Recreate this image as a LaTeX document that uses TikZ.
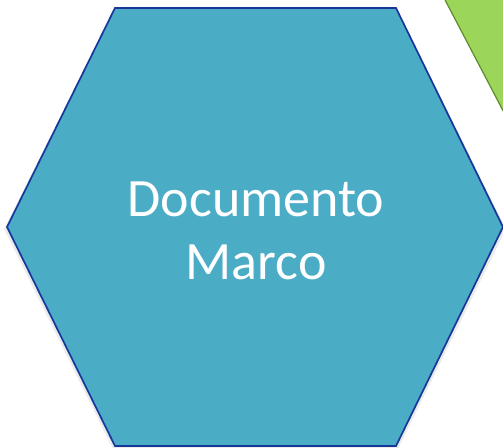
\documentclass[tikz,border=0pt]{standalone}
\usepackage{fontspec}
\setmainfont{Carlito}
\definecolor{hexfill}{HTML}{4BACC6}
\definecolor{hexline}{HTML}{17379B}
\definecolor{greenfill}{HTML}{9BD55A}
\definecolor{greenline}{HTML}{5F8B2F}
\begin{document}
\begin{tikzpicture}[x=1pt,y=-1pt,
  hexshape/.style={fill=hexfill,draw=hexline,line width=1.7pt,line join=miter},
  greenshape/.style={fill=greenfill,draw=greenline,line width=1.2pt},
  hextext/.style={text=white,font=\fontsize{54}{63}\selectfont,align=center}]
\useasboundingbox (0,0) rectangle (503,447);
\begin{scope}
\clip (0,0) rectangle (503,447);
\fill[black!10] (446,0) -- (506,0) -- (506,116) -- cycle;
\draw[greenshape] (444,-2) -- (510,-2) -- (510,124) -- cycle;
\fill[black!8] (113,11) -- (398,11) -- (506,229) -- (398,449) -- (113,449) -- (4,229) -- cycle;
\draw[hexshape] (115,8) -- (396,8) -- (503,227) -- (396,446) -- (115,446) -- (7,227) -- cycle;
\end{scope}
\node[hextext] (label) at (256,231) {Documento\\Marco};
\end{tikzpicture}
\end{document}
